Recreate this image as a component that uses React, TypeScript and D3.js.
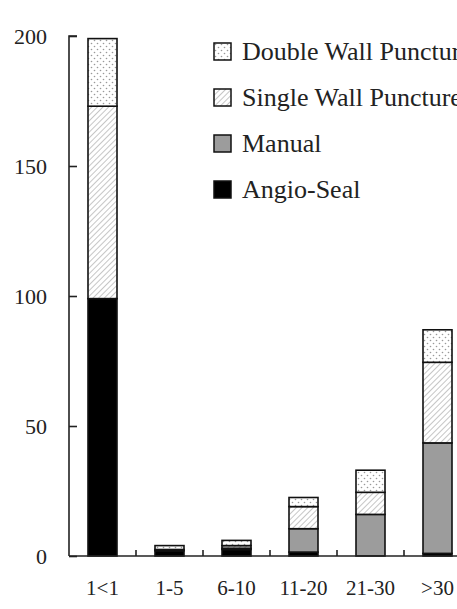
import { useEffect, useRef } from "react";
import * as d3 from "d3";

const categories = ["1<1", "1-5", "6-10", "11-20", "21-30", ">30"];
const angioSeal = [99, 2, 2.5, 1.5, 0, 1];
const manual = [0, 0, 0.5, 9, 16, 42.5];
const singleWall = [74, 0.5, 1, 8.5, 8.5, 31];
const doubleWall = [26, 1.5, 2, 3.5, 8.5, 12.5];
const yTicks = [0, 50, 100, 150, 200];

const seriesNames = ["Angio-Seal", "Manual", "Single Wall Puncture", "Double Wall Puncture"];
const legendOrder = ["Double Wall Puncture", "Single Wall Puncture", "Manual", "Angio-Seal"];

const fills: Record<string, string> = {
  "Angio-Seal": "#000",
  "Manual": "#9c9c9c",
  "Single Wall Puncture": "url(#hatch)",
  "Double Wall Puncture": "url(#dots)",
};

const App = () => {
  const ref = useRef<SVGSVGElement>(null);

  useEffect(() => {
    const svg = d3.select(ref.current);
    svg.selectAll("*").remove();

    const font = "'Liberation Serif', 'Times New Roman', serif";
    const left = 69;
    const step = 67;
    const barW = 29;

    const defs = svg.append("defs");
    const hatch = defs.append("pattern")
      .attr("id", "hatch")
      .attr("patternUnits", "userSpaceOnUse")
      .attr("width", 4)
      .attr("height", 4)
      .attr("patternTransform", "rotate(45)");
    hatch.append("rect").attr("width", 4).attr("height", 4).attr("fill", "#fff");
    hatch.append("line")
      .attr("x1", 0).attr("y1", 0).attr("x2", 0).attr("y2", 4)
      .attr("stroke", "#a8a8a8").attr("stroke-width", 1.3);

    const dots = defs.append("pattern")
      .attr("id", "dots")
      .attr("patternUnits", "userSpaceOnUse")
      .attr("width", 6)
      .attr("height", 6);
    dots.append("rect").attr("width", 6).attr("height", 6).attr("fill", "#fff");
    dots.append("circle").attr("cx", 1.5).attr("cy", 1.5).attr("r", 0.8).attr("fill", "#999");
    dots.append("circle").attr("cx", 4.5).attr("cy", 4.5).attr("r", 0.8).attr("fill", "#999");

    const x = d3.scaleBand().domain(categories).range([left, left + step * categories.length]).padding(0);
    const y = d3.scaleLinear().domain([0, 200]).range([556, 36]);

    const table = categories.map((c, i) => ({
      cat: c,
      "Angio-Seal": angioSeal[i],
      "Manual": manual[i],
      "Single Wall Puncture": singleWall[i],
      "Double Wall Puncture": doubleWall[i],
    }));
    const stacked = d3.stack<any>().keys(seriesNames)(table);

    stacked.forEach((layer) => {
      svg.append("g")
        .selectAll("rect")
        .data(layer)
        .enter()
        .append("rect")
        .attr("x", (d) => x(d.data.cat)! + (x.bandwidth() - barW) / 2)
        .attr("width", barW)
        .attr("y", (d) => y(d[1]))
        .attr("height", (d) => Math.max(0, y(d[0]) - y(d[1])))
        .attr("fill", fills[layer.key])
        .attr("stroke", "#111")
        .attr("stroke-width", 1.6);
    });

    // y axis
    const yAxis = svg.append("g").attr("transform", `translate(${left},0)`)
      .call(d3.axisRight(y).tickValues(yTicks).tickSize(8).tickFormat(() => ""));
    yAxis.select(".domain").attr("d", `M8,${y(200)}H0V${y(0)}`).attr("stroke", "#222").attr("stroke-width", 1.6);
    yAxis.selectAll(".tick line").attr("stroke", "#222").attr("stroke-width", 1.6);

    svg.append("g")
      .selectAll("text")
      .data(yTicks)
      .enter()
      .append("text")
      .attr("x", 47)
      .attr("y", (d) => y(d))
      .attr("dy", "0.35em")
      .attr("text-anchor", "end")
      .attr("font-family", font)
      .attr("font-size", 22)
      .attr("fill", "#222")
      .text((d) => d);

    // x axis
    svg.append("line")
      .attr("x1", left).attr("x2", left + step * categories.length)
      .attr("y1", y(0)).attr("y2", y(0))
      .attr("stroke", "#222").attr("stroke-width", 1.6);

    svg.append("g")
      .selectAll("line")
      .data(categories.slice(1))
      .enter()
      .append("line")
      .attr("x1", (d) => x(d)!).attr("x2", (d) => x(d)!)
      .attr("y1", y(0)).attr("y2", y(0) - 6)
      .attr("stroke", "#222").attr("stroke-width", 1.6);

    svg.append("g")
      .selectAll("text")
      .data(categories)
      .enter()
      .append("text")
      .attr("x", (d) => x(d)! + x.bandwidth() / 2)
      .attr("y", 595)
      .attr("text-anchor", "middle")
      .attr("font-family", font)
      .attr("font-size", 21)
      .attr("fill", "#222")
      .text((d) => d);

    // legend
    const legend = svg.append("g")
      .selectAll("g")
      .data(legendOrder)
      .enter()
      .append("g")
      .attr("transform", (d, i) => `translate(214,${43 + i * 46})`);
    legend.append("rect")
      .attr("width", 17).attr("height", 17)
      .attr("fill", (d) => fills[d])
      .attr("stroke", "#111").attr("stroke-width", 1.5);
    legend.append("text")
      .attr("x", 28)
      .attr("y", 17)
      .attr("font-family", font)
      .attr("font-size", 26)
      .attr("fill", "#222")
      .text((d) => d);
  }, []);

  return (
    <svg ref={ref} width={457} height={609}
      style={{ position: "absolute", left: 0, top: 0, background: "#fff" }} />
  );
};

export default App;
